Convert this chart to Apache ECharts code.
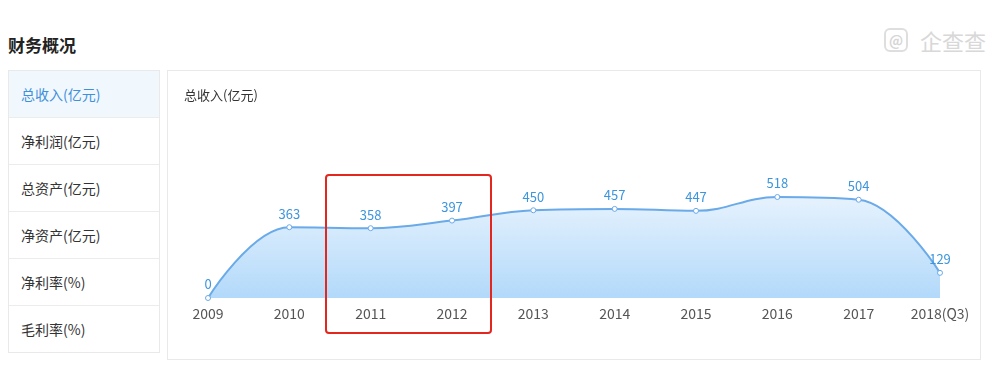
<!DOCTYPE html>
<html>
<head>
<meta charset="utf-8">
<script src="https://cdn.jsdelivr.net/npm/echarts@6/dist/echarts.min.js"></script>
<style>
  html, body { margin:0; padding:0; background:#fff; width:994px; height:380px; overflow:hidden;
    font-family:"Noto Sans CJK SC","Microsoft YaHei",sans-serif; }
  #title { position:absolute; left:8px; top:32px; font-size:17px; font-weight:bold; color:#222; }
  #wm { position:absolute; left:884px; top:24px; color:#d8d8d8; font-size:22px; display:flex; align-items:center; }
  #wm .ic { width:20px; height:20px; border:2px solid #dedede; border-radius:6px; margin-right:12px;
     display:flex; align-items:center; justify-content:center; font-size:14px; font-weight:bold; color:#d6d6d6; }
  #tabs { position:absolute; left:8px; top:70px; width:150px; height:281px; border:1px solid #e9e9e9; }
  .tab { height:46px; border-bottom:1px solid #ececec; font-size:14px; color:#333; line-height:46px; padding-left:12px; }
  .tab:last-child { border-bottom:none; }
  .tab.on { background:#f1f8fd; color:#3e8fdc; }
  #panel { position:absolute; left:167px; top:70px; width:812px; height:288px; border:1px solid #e9e9e9; }
  #chart { position:absolute; left:0; top:0; width:994px; height:380px; }
</style>
</head>
<body>
<div id="title">财务概况</div>
<div id="wm"><div class="ic">@</div>企查查</div>
<div id="tabs">
  <div class="tab on">总收入(亿元)</div>
  <div class="tab">净利润(亿元)</div>
  <div class="tab">总资产(亿元)</div>
  <div class="tab">净资产(亿元)</div>
  <div class="tab">净利率(%)</div>
  <div class="tab">毛利率(%)</div>
</div>
<div id="panel"></div>
<div id="chart"></div>
<script>
const chartTitle = '总收入(亿元)';
const years = ['2009','2010','2011','2012','2013','2014','2015','2016','2017','2018(Q3)'];
const revenue = [0, 363, 358, 397, 450, 457, 447, 518, 504, 129];

const chart = echarts.init(document.getElementById('chart'), null, {renderer:'canvas'});
chart.setOption({
  animation: false,
  title: { text: chartTitle, left: 184, top: 89, padding: 0, textStyle: { fontSize: 13, fontWeight: 'normal', color: '#333',
    fontFamily: '"Noto Sans CJK SC",sans-serif' } },
  grid: { left: 208, right: 54, top: 181, bottom: 82 },
  xAxis: {
    type: 'category', data: years, boundaryGap: false,
    axisLine: { show: false }, axisTick: { show: false }, splitLine: { show: false },
    axisLabel: { color: '#555', fontSize: 14, margin: 9, interval: 0, fontFamily: '"Noto Sans CJK SC",sans-serif' }
  },
  yAxis: { type: 'value', min: 0, max: 600, show: false, splitLine: { show: false } },
  series: [{
    type: 'line', data: revenue, smooth: 0.4,
    symbol: 'circle', symbolSize: 5,
    itemStyle: { color: '#fff', borderColor: '#6aaae8', borderWidth: 1 },
    lineStyle: { color: '#6aaae8', width: 2 },
    areaStyle: { color: new echarts.graphic.LinearGradient(0, 0, 0, 1, [
      { offset: 0, color: '#e6f2fd' }, { offset: 1, color: '#b2d9fa' }]), opacity: 1 },
    label: { show: true, position: 'top', color: '#3d95dc', fontSize: 13, distance: 4,
      fontFamily: '"Noto Sans CJK SC",sans-serif' }
  }],
  graphic: [{
    type: 'rect', shape: { x: 326, y: 175, width: 165, height: 158, r: 3 },
    style: { fill: 'none', stroke: '#e3261e', lineWidth: 2 }, z: 100
  }]
});
</script>
</body>
</html>
